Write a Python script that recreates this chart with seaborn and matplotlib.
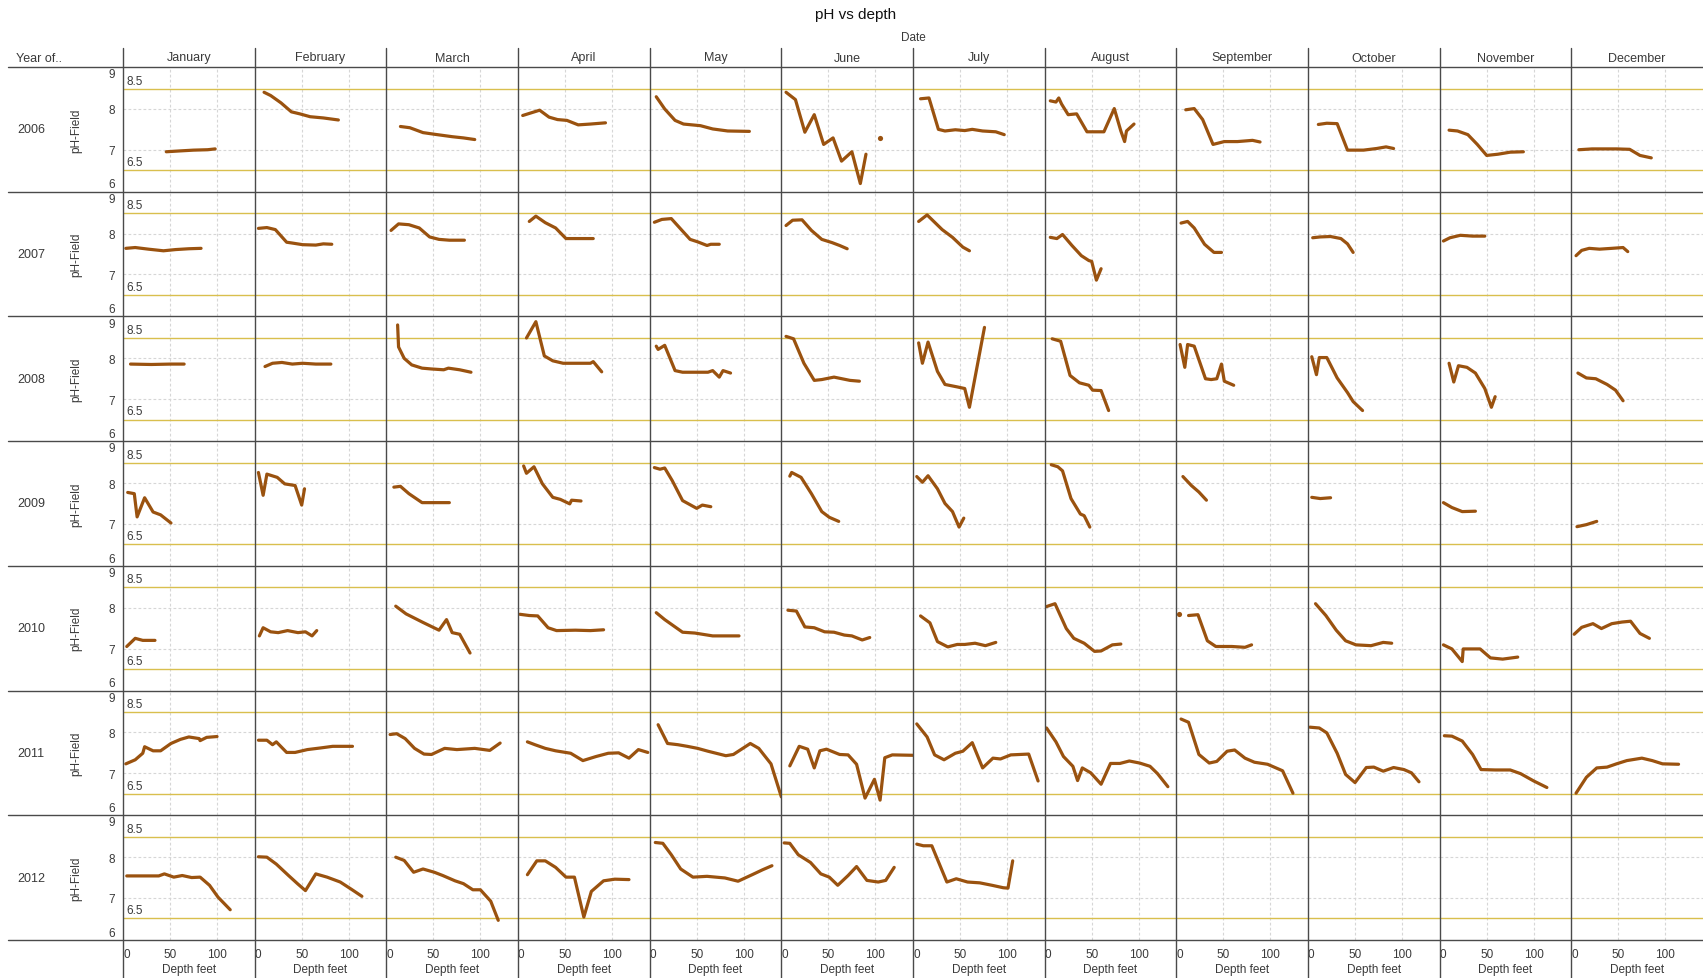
import matplotlib
matplotlib.use("Agg")
import matplotlib.pyplot as plt
from matplotlib.lines import Line2D
import pandas as pd
import seaborn as sns

# ---------------------------------------------------------------- data
years = [2006, 2007, 2008, 2009, 2010, 2011, 2012]
months = ["January", "February", "March", "April", "May", "June", "July",
          "August", "September", "October", "November", "December"]
ph_ticks = [6, 7, 8, 9]
depth_ticks = [0, 50, 100]
ph_limits = [6.5, 8.5]

# (depth feet, pH) profiles; None marks a gap in a profile
ph_2006 = {
    "January": [(46, 6.95), (60, 6.97), (75, 6.99), (90, 7.00), (98, 7.02)],
    "February": [(10, 8.41), (17, 8.33), (28, 8.15), (39, 7.93), (48, 7.88), (59, 7.81), (73, 7.78), (89, 7.73)],
    "March": [(15, 7.57), (25, 7.54), (39, 7.42), (51, 7.38), (70, 7.32), (82, 7.29), (94, 7.25)],
    "April": [(5, 7.84), (23, 7.97), (33, 7.80), (42, 7.74), (52, 7.72), (64, 7.61), (77, 7.63), (93, 7.66)],
    "May": [(7, 8.30), (16, 8.00), (27, 7.72), (36, 7.63), (54, 7.59), (67, 7.51), (83, 7.46), (106, 7.45)],
    "June": [(5, 8.41), (15, 8.23), (25, 7.43), (35, 7.86), (45, 7.13), (55, 7.29), (64, 6.72), (75, 6.95),
             (84, 6.17), (90, 6.89), None, (105, 7.28)],
    "July": [(8, 8.25), (17, 8.27), (27, 7.50), (34, 7.46), (45, 7.49), (55, 7.47), (63, 7.50), (74, 7.46),
             (88, 7.44), (97, 7.37)],
    "August": [(6, 8.20), (12, 8.17), (15, 8.27), (18, 8.12), (25, 7.86), (34, 7.88), (45, 7.44), (63, 7.44),
               (74, 8.01), (81, 7.46), (85, 7.20), (87, 7.46), (95, 7.63)],
    "September": [(10, 7.98), (19, 8.01), (28, 7.74), (39, 7.13), (51, 7.20), (65, 7.20), (81, 7.23), (89, 7.19)],
    "October": [(11, 7.62), (20, 7.65), (31, 7.64), (42, 6.99), (59, 6.99), (73, 7.03), (83, 7.07), (91, 7.03)],
    "November": [(10, 7.48), (19, 7.46), (30, 7.37), (40, 7.13), (50, 6.86), (62, 6.89), (75, 6.94), (89, 6.95)],
    "December": [(8, 7.00), (22, 7.02), (48, 7.02), (62, 7.01), (73, 6.86), (85, 6.80)],
}

ph_2007 = {
    "January": [(3, 7.64), (13, 7.66), (27, 7.62), (43, 7.58), (56, 7.61), (70, 7.63), (83, 7.64)],
    "February": [(4, 8.13), (13, 8.15), (22, 8.10), (34, 7.79), (40, 7.77), (51, 7.73), (65, 7.72), (73, 7.75), (82, 7.74)],
    "March": [(5, 8.08), (13, 8.24), (24, 8.22), (35, 8.14), (46, 7.92), (56, 7.86), (67, 7.84), (83, 7.84)],
    "April": [(12, 8.30), (19, 8.43), (29, 8.27), (40, 8.14), (51, 7.88), (80, 7.88)],
    "May": [(5, 8.28), (13, 8.35), (23, 8.37), (32, 8.14), (43, 7.86), (51, 7.80), (61, 7.71), (65, 7.74), (74, 7.74)],
    "June": [(5, 8.20), (12, 8.33), (22, 8.34), (32, 8.08), (43, 7.86), (54, 7.78), (62, 7.71), (70, 7.63)],
    "July": [(6, 8.30), (15, 8.46), (23, 8.28), (31, 8.10), (42, 7.91), (53, 7.67), (60, 7.58)],
    "August": [(6, 7.91), (13, 7.88), (19, 7.98), (29, 7.71), (39, 7.46), (47, 7.34), (50, 7.32), (55, 6.86), (60, 7.14)],
    "September": [(5, 8.26), (12, 8.30), (19, 8.14), (30, 7.74), (40, 7.54), (48, 7.54)],
    "October": [(5, 7.90), (13, 7.92), (24, 7.93), (35, 7.88), (42, 7.75), (48, 7.54)],
    "November": [(4, 7.82), (11, 7.90), (22, 7.96), (35, 7.94), (48, 7.94)],
    "December": [(5, 7.46), (11, 7.59), (19, 7.64), (30, 7.62), (43, 7.64), (55, 7.66), (60, 7.56)],
}

ph_2008 = {
    "January": [(8, 7.86), (30, 7.85), (51, 7.86), (65, 7.86)],
    "February": [(11, 7.80), (19, 7.88), (29, 7.90), (40, 7.86), (51, 7.88), (65, 7.86), (81, 7.86)],
    "March": [(12, 8.82), (13, 8.28), (19, 8.00), (27, 7.84), (38, 7.76), (48, 7.74), (61, 7.72), (66, 7.76),
              (78, 7.72), (90, 7.66)],
    "April": [(9, 8.50), (19, 8.90), (28, 8.06), (37, 7.94), (48, 7.88), (61, 7.88), (77, 7.88), (80, 7.92), (89, 7.67)],
    "May": [(7, 8.30), (9, 8.22), (16, 8.32), (27, 7.70), (35, 7.66), (46, 7.66), (62, 7.66), (67, 7.70),
            (74, 7.54), (78, 7.70), (86, 7.64)],
    "June": [(5, 8.54), (13, 8.48), (24, 7.88), (35, 7.46), (43, 7.48), (56, 7.54), (73, 7.46), (83, 7.44)],
    "July": [(6, 8.38), (10, 7.88), (16, 8.40), (26, 7.68), (34, 7.36), (47, 7.30), (55, 7.26), (60, 6.80), (76, 8.76)],
    "August": [(8, 8.48), (17, 8.42), (27, 7.58), (37, 7.40), (47, 7.34), (51, 7.22), (60, 7.21), (68, 6.72)],
    "September": [(4, 8.34), (9, 7.78), (12, 8.34), (19, 8.30), (31, 7.50), (37, 7.48), (43, 7.50), (48, 7.86),
                  (51, 7.44), (61, 7.34)],
    "October": [(4, 8.04), (9, 7.60), (12, 8.02), (20, 8.02), (31, 7.52), (42, 7.16), (48, 6.94), (58, 6.72)],
    "November": [(10, 7.88), (15, 7.42), (20, 7.82), (29, 7.78), (38, 7.64), (48, 7.26), (55, 6.80), (59, 7.06)],
    "December": [(7, 7.64), (16, 7.52), (26, 7.50), (38, 7.36), (47, 7.22), (55, 6.96)],
}

ph_2009 = {
    "January": [(5, 7.77), (12, 7.74), (15, 7.17), (23, 7.64), (32, 7.29), (40, 7.22), (51, 7.02)],
    "February": [(4, 8.26), (9, 7.70), (13, 8.22), (24, 8.14), (32, 7.98), (43, 7.94), (50, 7.46), (53, 7.86)],
    "March": [(8, 7.90), (15, 7.92), (24, 7.74), (38, 7.52), (51, 7.52), (67, 7.52)],
    "April": [(6, 8.42), (9, 8.24), (17, 8.40), (26, 7.98), (37, 7.65), (45, 7.60), (55, 7.49), (57, 7.58), (67, 7.56)],
    "May": [(5, 8.38), (11, 8.34), (16, 8.37), (24, 8.06), (35, 7.57), (50, 7.38), (56, 7.46), (65, 7.42)],
    "June": [(9, 8.17), (11, 8.26), (21, 8.14), (32, 7.74), (43, 7.30), (51, 7.16), (61, 7.06)],
    "July": [(4, 8.16), (10, 8.02), (16, 8.18), (26, 7.86), (34, 7.50), (42, 7.30), (49, 6.92), (54, 7.14)],
    "August": [(7, 8.45), (14, 8.40), (19, 8.30), (28, 7.62), (38, 7.24), (42, 7.20), (48, 6.92)],
    "September": [(7, 8.16), (16, 7.94), (24, 7.78), (32, 7.58)],
    "October": [(4, 7.65), (13, 7.62), (24, 7.64)],
    "November": [(4, 7.52), (13, 7.40), (24, 7.30), (38, 7.31)],
    "December": [(6, 6.93), (16, 6.98), (27, 7.06)],
}

ph_2010 = {
    "January": [(4, 7.05), (13, 7.25), (21, 7.20), (34, 7.20)],
    "February": [(5, 7.31), (9, 7.51), (17, 7.41), (25, 7.39), (35, 7.44), (46, 7.39), (54, 7.41), (61, 7.31), (66, 7.44)],
    "March": [(10, 8.04), (21, 7.85), (39, 7.64), (56, 7.45), (64, 7.71), (70, 7.39), (78, 7.35), (89, 6.89)],
    "April": [(2, 7.84), (12, 7.81), (21, 7.80), (32, 7.51), (41, 7.44), (61, 7.45), (77, 7.44), (91, 7.46)],
    "May": [(7, 7.88), (16, 7.71), (35, 7.40), (48, 7.38), (67, 7.31), (95, 7.31)],
    "June": [(7, 7.94), (16, 7.92), (25, 7.53), (35, 7.51), (46, 7.41), (56, 7.40), (67, 7.33), (75, 7.31),
             (86, 7.21), (94, 7.27)],
    "July": [(8, 7.80), (18, 7.63), (26, 7.17), (37, 7.04), (47, 7.10), (55, 7.10), (66, 7.13), (77, 7.07), (88, 7.15)],
    "August": [(2, 8.03), (11, 8.10), (23, 7.49), (31, 7.25), (42, 7.13), (53, 6.93), (60, 6.94), (72, 7.09), (81, 7.11)],
    "September": [(3, 7.84), None, (13, 7.81), (23, 7.83), (33, 7.19), (42, 7.05), (59, 7.05), (73, 7.03), (80, 7.09)],
    "October": [(8, 8.10), (19, 7.81), (30, 7.45), (40, 7.19), (51, 7.09), (67, 7.07), (80, 7.15), (89, 7.13)],
    "November": [(4, 7.09), (13, 6.99), (24, 6.68), (25, 6.99), (43, 6.99), (54, 6.77), (67, 6.74), (83, 6.79)],
    "December": [(3, 7.35), (11, 7.52), (23, 7.61), (32, 7.49), (43, 7.61), (54, 7.65), (63, 7.67), (73, 7.37), (83, 7.25)],
}

ph_2011 = {
    "January": [(3, 7.23), (13, 7.33), (21, 7.49), (23, 7.65), (32, 7.55), (40, 7.55), (51, 7.73), (61, 7.83),
                (70, 7.89), (81, 7.85), (82, 7.80), (89, 7.88), (100, 7.90)],
    "February": [(4, 7.81), (13, 7.81), (19, 7.70), (23, 7.77), (34, 7.51), (43, 7.51), (56, 7.58), (70, 7.62),
                 (83, 7.66), (104, 7.66)],
    "March": [(4, 7.95), (11, 7.97), (20, 7.85), (30, 7.61), (40, 7.47), (48, 7.46), (62, 7.61), (75, 7.58),
              (94, 7.61), (110, 7.56), (121, 7.74)],
    "April": [(10, 7.77), (18, 7.70), (29, 7.61), (40, 7.55), (56, 7.49), (69, 7.31), (83, 7.41), (96, 7.49),
              (107, 7.50), (118, 7.37), (128, 7.58), (138, 7.51)],
    "May": [(9, 8.19), (19, 7.73), (30, 7.70), (40, 7.66), (51, 7.61), (62, 7.54), (81, 7.43), (89, 7.46),
            (107, 7.73), (116, 7.61), (129, 7.23), (140, 6.42)],
    "June": [(9, 7.18), (19, 7.66), (28, 7.59), (35, 7.13), (41, 7.55), (48, 7.59), (62, 7.46), (71, 7.45),
             (80, 7.22), (89, 6.39), (99, 6.85), (105, 6.34), (110, 7.38), (118, 7.45), (140, 7.44)],
    "July": [(4, 8.21), (15, 7.89), (23, 7.45), (33, 7.33), (45, 7.49), (53, 7.54), (63, 7.75), (74, 7.13),
             (85, 7.37), (93, 7.35), (104, 7.45), (123, 7.47), (133, 6.81)],
    "August": [(2, 8.11), (12, 7.77), (20, 7.41), (30, 7.17), (35, 6.82), (40, 7.13), (49, 7.01), (60, 6.73),
               (70, 7.24), (80, 7.24), (90, 7.30), (101, 7.25), (112, 7.17), (120, 6.99), (131, 6.67)],
    "September": [(5, 8.33), (13, 8.25), (24, 7.46), (35, 7.25), (43, 7.29), (54, 7.54), (62, 7.57), (73, 7.37),
                  (83, 7.27), (97, 7.22), (105, 7.14), (113, 7.06), (124, 6.51)],
    "October": [(2, 8.13), (12, 8.11), (20, 7.99), (31, 7.49), (40, 6.97), (50, 6.77), (62, 7.14), (70, 7.15),
                (80, 7.05), (91, 7.14), (102, 7.09), (110, 7.01), (118, 6.79)],
    "November": [(5, 7.92), (13, 7.91), (24, 7.79), (35, 7.46), (44, 7.09), (59, 7.08), (75, 7.08), (86, 6.99),
                 (100, 6.81), (114, 6.65)],
    "December": [(5, 6.51), (16, 6.90), (27, 7.13), (38, 7.15), (48, 7.23), (59, 7.31), (75, 7.37), (86, 7.31),
                 (97, 7.23), (114, 7.22)],
}

ph_2012 = {
    "January": [(4, 7.54), (15, 7.54), (26, 7.54), (38, 7.54), (44, 7.59), (54, 7.51), (63, 7.55), (73, 7.50),
                (82, 7.51), (92, 7.31), (101, 7.02), (114, 6.71)],
    "February": [(4, 8.01), (13, 8.00), (23, 7.83), (36, 7.55), (46, 7.34), (54, 7.18), (65, 7.59), (77, 7.51),
                 (91, 7.39), (103, 7.21), (114, 7.04)],
    "March": [(10, 8.00), (19, 7.92), (29, 7.63), (39, 7.71), (51, 7.63), (60, 7.55), (73, 7.42), (82, 7.35),
              (92, 7.20), (100, 7.20), (111, 6.92), (119, 6.45)],
    "April": [(10, 7.57), (20, 7.91), (29, 7.91), (40, 7.75), (51, 7.51), (60, 7.51), (70, 6.53), (78, 7.16),
              (91, 7.42), (103, 7.46), (118, 7.45)],
    "May": [(6, 8.36), (14, 8.34), (23, 8.06), (33, 7.71), (46, 7.51), (61, 7.53), (80, 7.49), (94, 7.41),
            (109, 7.57), (120, 7.69), (130, 7.79)],
    "June": [(3, 8.35), (9, 8.34), (18, 8.06), (31, 7.87), (42, 7.59), (51, 7.51), (60, 7.31), (71, 7.55),
             (80, 7.77), (91, 7.43), (103, 7.39), (111, 7.43), (120, 7.75)],
    "July": [(4, 8.32), (11, 8.28), (20, 8.28), (36, 7.39), (46, 7.47), (58, 7.39), (71, 7.37), (84, 7.31),
             (96, 7.25), (101, 7.24), (106, 7.91)],
}

profiles = {2006: ph_2006, 2007: ph_2007, 2008: ph_2008, 2009: ph_2009,
            2010: ph_2010, 2011: ph_2011, 2012: ph_2012}

# --------------------------------------------------- long-form table
rows = []
for yr, by_month in profiles.items():
    for mo, pts in by_month.items():
        seg = 0
        for p in pts:
            if p is None:
                seg += 1
                continue
            rows.append({"year": yr, "month": mo, "seg": seg, "depth": p[0], "ph": p[1]})
df = pd.DataFrame(rows)
df["npts"] = df.groupby(["year", "month", "seg"])["depth"].transform("size")

# ------------------------------------------------------------ styling
sns.set_theme(style="white")
plt.rcParams["font.family"] = ["Liberation Sans", "DejaVu Sans"]

BROWN = "#9A520F"
GOLD = "#D9BF4E"
GRID = "#D6D6D6"
RULE = "#4A4A4A"
TEXT = "#3A3A3A"

W, H = 1703, 979
fig = plt.figure(figsize=(W / 100, H / 100), dpi=100)
fig.patch.set_facecolor("white")


def fx(px):
    return px / W


def fy(py):
    return 1 - py / H


LEFT, TOP = 123.0, 68.0
COL_W = (W - LEFT) / len(months)
ROW_H = 124.7
HEADER_TOP = 49.0
n_rows = len(years)

for i, yr in enumerate(years):
    for j, mo in enumerate(months):
        x0 = LEFT + j * COL_W
        y0 = TOP + i * ROW_H
        ax = fig.add_axes([fx(x0), fy(y0 + ROW_H), COL_W / W, ROW_H / H])
        ax.set_facecolor("white")
        ax.set_xlim(0, 140)
        ax.set_ylim(5.97, 9.03)
        for s in ax.spines.values():
            s.set_visible(False)

        for v in (50, 100):
            ax.axvline(v, color=GRID, lw=0.8, ls=(0, (2.5, 2)), zorder=0)
        for v in (7, 8):
            ax.axhline(v, color=GRID, lw=0.8, ls=(0, (2.5, 2)), zorder=0)
        for v in ph_limits:
            ax.axhline(v, color=GOLD, lw=1.0, zorder=1)

        sub = df[(df["year"] == yr) & (df["month"] == mo)]
        lines = sub[sub["npts"] > 1]
        dots = sub[sub["npts"] == 1]
        if len(lines):
            sns.lineplot(data=lines, x="depth", y="ph", units="seg", estimator=None, sort=False,
                         color=BROWN, lw=2.3, ax=ax, legend=False, zorder=3,
                         solid_joinstyle="round", solid_capstyle="round")
        if len(dots):
            sns.scatterplot(data=dots, x="depth", y="ph", color=BROWN, s=14, linewidth=0,
                            ax=ax, legend=False, zorder=3)
        ax.set_xlabel("")
        ax.set_ylabel("")

        ax.set_xticks(depth_ticks)
        ax.set_yticks(ph_ticks)
        ax.tick_params(length=0)
        if j == 0:
            ax.set_yticklabels([str(t) for t in ph_ticks], fontsize=8.5, color=TEXT)
            ax.tick_params(axis="y", pad=6)
            labels = ax.get_yticklabels()
            labels[0].set_va("bottom")
            labels[-1].set_va("top")
            for v in ph_limits:
                ax.annotate(f"{v}", (0, v), xytext=(2.5, 1.5), textcoords="offset points",
                            ha="left", va="bottom", fontsize=8.5, color=TEXT)
        else:
            ax.set_yticklabels([])
        if i == n_rows - 1:
            ax.set_xticklabels([str(t) for t in depth_ticks], fontsize=8.5, color=TEXT)
            ax.tick_params(axis="x", pad=6)
            ax.get_xticklabels()[0].set_ha("left")
            fig.text(fx(x0 + COL_W / 2), fy(970), "Depth feet", ha="center", va="center",
                     fontsize=8.5, color=TEXT)
        else:
            ax.set_xticklabels([])

# ----------------------------------------------------- frame & labels
for i in range(n_rows + 1):
    y = TOP + i * ROW_H
    fig.add_artist(Line2D([fx(8), 1], [fy(y), fy(y)], color=RULE, lw=1.0))
for j in range(len(months)):
    x = LEFT + j * COL_W
    fig.add_artist(Line2D([fx(x), fx(x)], [fy(HEADER_TOP), 0], color=RULE, lw=1.0))

for j, mo in enumerate(months):
    fig.text(fx(LEFT + (j + 0.5) * COL_W), fy(58.5), mo, ha="center", va="center",
             fontsize=9, color=TEXT)
fig.text(fx(16), fy(58.5), "Year of..", ha="left", va="center", fontsize=9, color=TEXT)

for i, yr in enumerate(years):
    yc = TOP + (i + 0.5) * ROW_H
    fig.text(fx(17), fy(yc), str(yr), ha="left", va="center", fontsize=9, color=TEXT)
    fig.text(fx(76), fy(yc), "pH-Field", ha="center", va="center", rotation=90,
             fontsize=8.5, color=TEXT)

fig.text(fx(856), fy(15), "pH vs depth", ha="center", va="center", fontsize=11, color="#111111")
fig.text(fx(LEFT + (W - LEFT) / 2), fy(38), "Date", ha="center", va="center", fontsize=8.5, color=TEXT)

fig.savefig("out.png", dpi=100, facecolor="white")
